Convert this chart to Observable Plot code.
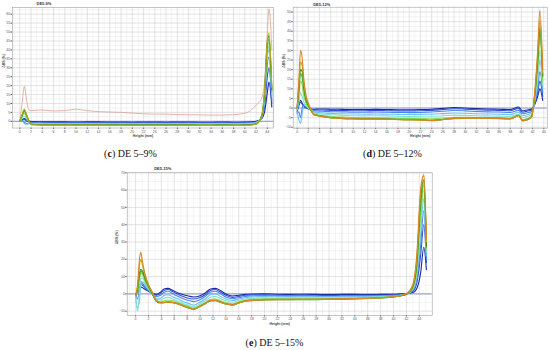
<!DOCTYPE html>
<html>
<head>
<meta charset="utf-8">
<script src="https://cdn.jsdelivr.net/npm/d3@7"></script>
<script src="https://cdn.jsdelivr.net/npm/@observablehq/plot@0.6"></script>
<style>
  html, body { margin: 0; padding: 0; background: #fff; }
  #root { position: relative; width: 550px; height: 350px; overflow: hidden; background: #fff; }
  .panel { position: absolute; }
  .cap { position: absolute; transform: translate(-50%, -50%); font-family: "Liberation Serif", "DejaVu Serif", serif; font-size: 10px; color: #111; white-space: nowrap; }
</style>
</head>
<body>
<div id="root"></div>
<script>
// ---------------- DATA ----------------
const scanLabels = ["scan 1","scan 2","scan 3","scan 4","scan 5","scan 6","scan 7","scan 8","scan 9","scan 10"];
const xTickLabels = [0,2,4,6,8,10,12,14,16,18,20,22,24,26,28,30,32,34,36,38,40,42,44];

// Panel (c) DE 5–9%
const titleC = "DE5-9%";
const captionC = "DE 5–9%";
const yTicksC = [0,5,10,15,20,25,30,35,40,45,50,55,60];
const heightC = [0,0.4,0.8,1.2,1.6, 2,3,4, 6,8,10,12,14,16,18,20, 22,24,26,28,30,32,34,36,38,40, 41,42,43,43.5,44,44.3,44.8];
const seriesC = [
  [0,0.8,1.5,0.8,0.2, -0.1,-0.2,-0.3, -0.3,-0.3,-0.4,-0.3,-0.3,-0.4,-0.4,-0.5, -0.4,-0.4,-0.5,-0.4,-0.4,-0.5,-0.5,-0.4,-0.5,-0.4, -0.3,0,1.5,5,16,22,8],
  [0,0.5,1.0,0.2,-0.4, -0.5,-0.6,-0.6, -0.6,-0.7,-0.7,-0.6,-0.7,-0.7,-0.8,-0.8, -0.7,-0.8,-0.8,-0.7,-0.8,-0.8,-0.8,-0.7,-0.8,-0.7, -0.6,-0.3,1.8,8,25,30,10],
  [0,0.3,-0.5,-1.2,-1.0, -0.9,-0.9,-0.9, -1.0,-1.0,-1.0,-1.0,-1.0,-1.0,-1.1,-1.1, -1.0,-1.1,-1.1,-1.0,-1.1,-1.1,-1.1,-1.0,-1.1,-1.0, -0.9,-0.5,2,10,32,36,12],
  [0,0.2,-1.2,-1.7,-1.3, -1.1,-1.1,-1.2, -1.2,-1.2,-1.3,-1.2,-1.2,-1.3,-1.3,-1.3, -1.3,-1.3,-1.3,-1.2,-1.3,-1.3,-1.3,-1.3,-1.3,-1.2, -1.1,-0.7,2.5,12,36,40,14],
  [0,1.5,3,1.5,0, -1.2,-1.4,-1.4, -1.5,-1.5,-1.5,-1.5,-1.5,-1.5,-1.5,-1.6, -1.5,-1.5,-1.6,-1.5,-1.5,-1.6,-1.6,-1.5,-1.6,-1.5, -1.4,-1.0,2.5,13,38,42,15],
  [0,2.5,4.5,2.5,0, -1.4,-1.6,-1.7, -1.7,-1.7,-1.8,-1.7,-1.7,-1.8,-1.8,-1.8, -1.8,-1.8,-1.8,-1.8,-1.8,-1.9,-1.9,-1.8,-1.9,-1.8, -1.7,-1.2,2.8,14,40,44,16],
  [0,3,5.5,3,0.3, -1.6,-1.8,-1.9, -1.9,-1.9,-2.0,-1.9,-1.9,-2.0,-2.0,-2.0, -2.0,-2.0,-2.0,-2.0,-2.0,-2.1,-2.1,-2.0,-2.1,-2.0, -1.9,-1.4,3,15,42,46,17],
  [0,3.5,6.2,3.5,0.5, -1.7,-1.9,-2.0, -2.0,-2.0,-2.1,-2.0,-2.0,-2.1,-2.1,-2.1, -2.1,-2.1,-2.1,-2.1,-2.1,-2.2,-2.2,-2.1,-2.2,-2.1, -2.0,-1.5,3,16,44,48,18],
  [0,3.8,6.8,3.8,0.6, -1.8,-2.0,-2.1, -2.1,-2.1,-2.2,-2.1,-2.1,-2.2,-2.2,-2.2, -2.2,-2.2,-2.2,-2.2,-2.2,-2.3,-2.3,-2.2,-2.3,-2.2, -2.1,-1.6,3.2,17,45,49.5,19]
];
const outlierC = [0,10,19.5,12,6.5, 6,6.2,6.3, 5.8,6,6.8,6,5.4,5.2,5,4.6, 4.2,4,4,3.8,3.7,3.6,3.5,3.5,3.7,4.5, 6,9,13,22,50,63,40];

// Panel (d) DE 5–12%
const titleD = "DE5-12%";
const captionD = "DE 5–12%";
const yTicksD = [-10,-5,0,5,10,15,20,25,30,35,40,45,50];
const heightD = [0,0.3,0.6,0.9,1.2,1.6,2,2.5,3, 4,5,6,8,10,12,14,16,18,20, 22,24,26,28,30,32,34,36,38, 39.5,40.2,41,41.8,42.4,42.9,43.3,43.8];
const seriesD = [
  [-1,2,4,2.5,1,0.5,0,-0.5,-0.6, -0.5,-0.5,-0.6,-0.7,-0.8,-0.8,-0.7,-0.8,-0.9,-0.9, -0.8,-0.6,-0.2,0.3,0,-0.3,-0.5,-0.6,-0.8, 0.5,-1.5,-1,-0.5,2,6,10,4],
  [-2,1,3,2,0.5,0,-0.5,-1,-1.1, -1,-1.1,-1.2,-1.3,-1.4,-1.4,-1.3,-1.4,-1.5,-1.5, -1.4,-1.2,-0.8,-0.4,-0.6,-0.9,-1.1,-1.2,-1.4, -0.2,-2.2,-1.6,-1,2.5,8,14,6],
  [-3,-2,-5,0,2,1,0,-0.8,-1.5, -1.6,-1.8,-1.9,-2.0,-2.2,-2.2,-2.1,-2.2,-2.3,-2.4, -2.3,-2.1,-1.7,-1.3,-1.5,-1.8,-2.0,-2.1,-2.3, -1.2,-3,-2.5,-1.8,3,10,19,8],
  [-2,-6,-8,-3,1,1.5,0.5,-0.8,-2, -2.4,-2.6,-2.8,-3,-3.1,-3.2,-3.1,-3.2,-3.3,-3.4, -3.3,-3.2,-2.9,-2.6,-2.7,-3,-3.1,-3.2,-3.4, -2.2,-4,-3.5,-2.6,4,13,25,10],
  [-1,3,8,6,3,1,0,-1.2,-2.6, -3,-3.3,-3.5,-3.8,-4,-4.1,-4,-4.1,-4.3,-4.4, -4.3,-4.3,-4,-3.7,-3.8,-4,-4.1,-4.2,-4.4, -3.2,-5,-4.4,-3.4,5,16,30,12],
  [0,6,14,12,6,2.5,0.5,-1.5,-3, -3.6,-4,-4.3,-4.7,-4.9,-5,-5,-5.1,-5.3,-5.4, -5.4,-5.6,-5.2,-4.8,-4.8,-4.9,-4.9,-5,-5.2, -3.6,-6,-5.5,-4.2,6,20,36,14],
  [0,8,18,16,9,3.5,1,-1.5,-3.3, -3.9,-4.4,-4.8,-5.2,-5.4,-5.5,-5.5,-5.6,-5.8,-5.9, -6,-6.3,-5.8,-5.2,-5.2,-5.2,-5.2,-5.3,-5.5, -3.8,-6.4,-5.9,-4.5,7,23,40,16],
  [0,10,20,19,11,4.5,1.5,-1.3,-3.5, -4.1,-4.6,-5,-5.4,-5.6,-5.7,-5.7,-5.8,-6,-6.1, -6.2,-6.5,-6,-5.4,-5.3,-5.3,-5.3,-5.4,-5.6, -3.9,-6.6,-6.1,-4.7,7.5,25,42,17],
  [0,12,24,22,13,5.5,2,-1,-3.5, -4.2,-4.7,-5.1,-5.5,-5.7,-5.8,-5.8,-5.9,-6.1,-6.2, -6.3,-6.6,-6.1,-5.5,-5.4,-5.4,-5.4,-5.5,-5.7, -4,-6.7,-6.2,-4.8,8,28,46,18],
  [0,14,30,26,15,6.5,2.5,-0.8,-3.4, -4.1,-4.6,-5,-5.4,-5.6,-5.7,-5.7,-5.8,-6,-6.1, -6.2,-6.5,-6,-5.4,-5.3,-5.3,-5.3,-5.4,-5.6, -3.9,-6.6,-6.1,-4.6,9,30,51,20]
];

// Panel (e) DE 5–15%
const titleE = "DE5-15%";
const captionE = "DE 5–15%";
const yTicksE = [-10,0,10,20,30,40,50,60,70];
const heightE = [0,0.3,0.6,0.8,1.1, 1.5,2,2.6,3.2,3.8, 4.4,5,5.8,6.6,7.4, 8.2,9,9.9,10.8,11.6, 12.4,13.2,14,15,16, 17,18,20,22,24, 26,28,30,32,34, 36,38,40,41,42, 43,43.6,44.2,44.7,45.1];
const seriesE = [
  [0,1,3,4,3.5, 2.5,1.5,0.5,-0.3,0.8, 2.8,3.2,2,0.5,-0.5, -1.2,-1.8,-1.2,0.5,2.8, 3.2,1.8,0,-1.2,-0.8, -0.3,-0.1,0,-0.2,-0.3, -0.2,-0.3,-0.4,-0.3,-0.3, -0.4,-0.3,-0.2,0,0.2, 0.8,3,12,27,14],
  [0,0,4,6,5, 3.5,2,0.5,-0.8,0, 2,2.5,1.2,-0.3,-1.5, -2.5,-3,-2.2,-0.5,2, 2.5,1,-0.8,-2,-1.5, -0.8,-0.6,-0.5,-0.7,-0.8, -0.7,-0.8,-0.9,-0.8,-0.8, -0.8,-0.7,-0.5,-0.3,0, 1.5,6,22,40,18],
  [0,-3,2,7,6, 4,2,0,-1.5,-1, 0.8,1.5,0,-1.5,-2.8, -3.8,-4.5,-3.5,-1.5,1, 1.5,0,-1.8,-2.8,-2.2, -1.5,-1.2,-1,-1.2,-1.3, -1.2,-1.3,-1.4,-1.3,-1.2, -1.2,-1.1,-0.9,-0.6,-0.2, 2,8,28,48,20],
  [-2,-8,-4,5,7, 5,2.5,0,-2.5,-2.5, -1,-0.5,-1.8,-3,-4.5, -5.5,-6.5,-5,-3,-0.5, 0,-1.5,-3,-3.8,-3, -2.2,-1.8,-1.6,-1.7,-1.8, -1.7,-1.8,-1.8,-1.7,-1.6, -1.5,-1.4,-1.2,-0.8,-0.3, 2.5,10,34,55,22],
  [-1,-10,0,9,9, 6,3,0,-3,-3.5, -2.5,-2,-3,-4.2,-5.5, -6.5,-7.5,-6,-4,-2, -1.5,-2.8,-4,-4.8,-3.8, -3,-2.6,-2.3,-2.4,-2.4, -2.3,-2.4,-2.4,-2.3,-2.2, -2,-1.8,-1.5,-1,-0.3, 3,12,40,60,24],
  [-1,0,8,12,11, 7,3.5,0,-3.5,-4.5, -4,-3.5,-4,-5,-6.2, -7.2,-8.2,-6.8,-5,-3.2, -3,-4,-5,-5.8,-4.5, -3.6,-3.2,-2.9,-2.9,-2.9, -2.8,-2.8,-2.8,-2.7,-2.5, -2.3,-2,-1.6,-1,-0.2, 3.5,14,45,63,26],
  [-1,2,10,13,12, 8,4,0,-4,-5, -4.8,-4.5,-4.8,-5.6,-6.8, -7.8,-8.8,-7.2,-5.4,-3.8, -3.6,-4.6,-5.6,-6.2,-5, -4,-3.6,-3.2,-3.2,-3.2, -3.1,-3.1,-3,-2.9,-2.7, -2.5,-2.2,-1.7,-1.1,-0.2, 4,16,50,65,27],
  [-1,3,12,14,13, 9,4.5,0,-4.3,-5.3, -5.1,-4.9,-5.1,-5.9,-7.1, -8.1,-9,-7.5,-5.7,-4.1, -3.9,-4.9,-5.9,-6.5,-5.3, -4.3,-3.9,-3.5,-3.4,-3.4, -3.3,-3.3,-3.2,-3.1,-2.9, -2.7,-2.4,-1.8,-1.2,-0.2, 4.5,18,55,66,28],
  [-1,4,16,20,16, 10,5,0.5,-4,-5, -5,-4.8,-5,-5.8,-7, -8,-8.9,-7.4,-5.6,-4, -3.8,-4.8,-5.8,-6.4,-5.2, -4.2,-3.8,-3.4,-3.3,-3.3, -3.2,-3.2,-3.1,-3,-2.8, -2.6,-2.3,-1.7,-1,0, 5,20,58,68,30],
  [-1,5,20,24,18, 11,5.5,1,-3.8,-4.8, -4.9,-4.7,-4.9,-5.7,-6.9, -7.9,-8.8,-7.3,-5.5,-3.9, -3.7,-4.7,-5.7,-6.3,-5.1, -4.1,-3.7,-3.3,-3.2,-3.2, -3.1,-3.1,-3,-2.9,-2.7, -2.5,-2.2,-1.6,-0.9,0.2, 5.5,22,60,69,32]
];

// ---------------- STYLE ----------------
const palette = ["#1b2a9c","#2e4fd6","#4a86ea","#6cc0f2","#7fe0d0","#8edc5a","#4cb52c","#3a8a1e","#b8ac1c","#d6862a"];

function rows(xs, series, labels) {
  return series.flatMap((vals, i) => vals.map((v, j) => ({x: xs[j], y: v, scan: labels[i]})));
}

function panel(o) {
  const labels = scanLabels.slice(0, o.series.length);
  const data = rows(o.xs, o.series, labels);
  const [x0, x1] = o.xDomain, [y0, y1] = o.yDomain;
  const minorX = d3.range(Math.ceil(x0), x1, 1).filter(v => v % 2 !== 0);
  const stepY = o.yTicks[1] - o.yTicks[0];
  const minorY = d3.range(o.yTicks[0] - stepY / 2, y1, stepY).filter(v => v > y0);
  const marks = [
    Plot.gridX(minorX, {stroke: "#e8e8e8", strokeOpacity: 1, strokeWidth: 0.5}),
    Plot.gridY(minorY, {stroke: "#e8e8e8", strokeOpacity: 1, strokeWidth: 0.5}),
    Plot.gridX(xTickLabels, {stroke: "#d0d0d0", strokeOpacity: 1, strokeWidth: 0.6}),
    Plot.gridY(o.yTicks, {stroke: "#d0d0d0", strokeOpacity: 1, strokeWidth: 0.6}),
    Plot.ruleY([0], {stroke: "#6b6bd6", strokeWidth: 0.7})
  ];
  if (o.extra) marks.push(Plot.line(o.extra.data, {x: "x", y: "y", stroke: o.extra.color, strokeWidth: 0.8, curve: "monotone-x", clip: true}));
  marks.push(
    Plot.line(data, {x: "x", y: "y", z: "scan", stroke: "scan", strokeWidth: 1.1, curve: "monotone-x", clip: true}),
    Plot.frame({stroke: "#a0a0a0", strokeWidth: 0.6}),
    Plot.text([o.title], {frameAnchor: "top-left", dx: o.titleDx, dy: o.titleDy, fontSize: 4, fontWeight: "bold", fill: "#333"}),
    Plot.text(["Height (mm)"], {frameAnchor: "bottom", dy: o.xLabelDy, fontSize: 3.5, fontWeight: "bold", fill: "#444"}),
    Plot.text(["ΔBS (%)"], {frameAnchor: "left", dx: o.yLabelDx, rotate: -90, fontSize: 3.5, fontWeight: "bold", fill: "#444"})
  );
  return Plot.plot({
    width: o.width, height: o.height,
    marginLeft: o.m[0], marginRight: o.m[1], marginTop: o.m[2], marginBottom: o.m[3],
    style: {fontSize: "3.5px", fontFamily: "Arial, 'Liberation Sans', sans-serif", color: "#555", background: "transparent"},
    x: {domain: o.xDomain, ticks: xTickLabels, tickSize: 1.5, tickPadding: 0.8, label: null},
    y: {domain: o.yDomain, ticks: o.yTicks, tickSize: 1.5, tickPadding: 0.8, label: null},
    color: {domain: labels, range: palette.slice(0, labels.length)},
    marks
  });
}

const root = document.getElementById("root");
function place(node, left, top) {
  node.classList.add("panel");
  node.style.left = left + "px";
  node.style.top = top + "px";
  root.appendChild(node);
}
function caption(letter, text, cx, cy) {
  const d = document.createElement("div");
  d.className = "cap";
  d.style.left = cx + "px";
  d.style.top = cy + "px";
  d.innerHTML = "(<b>" + letter + "</b>) " + text;
  root.appendChild(d);
}

const outlierRows = heightC.map((h, j) => ({x: h, y: outlierC[j]}));

place(panel({
  xs: heightC, series: seriesC, yTicks: yTicksC, xDomain: [-1.3, 45.1], yDomain: [-3.75, 63.75],
  width: 277, height: 140, m: [12, 4, 7, 12.5],
  title: titleC, titleDx: 24, titleDy: -5, xLabelDy: 9, yLabelDx: -9,
  extra: {data: outlierRows, color: "#d9a293"}
}), 0, 0);

place(panel({
  xs: heightD, series: seriesD, yTicks: yTicksD, xDomain: [-0.7, 44.6], yDomain: [-10.5, 52.5],
  width: 270, height: 140, m: [12.7, 3.3, 6.7, 12.3],
  title: titleD, titleDx: 20, titleDy: -4.5, xLabelDy: 8.5, yLabelDx: -9
}), 280, 0);

place(panel({
  xs: heightE, series: seriesE, yTicks: yTicksE, xDomain: [-1.3, 46], yDomain: [-12.5, 70],
  width: 330, height: 170, m: [16.7, 8.3, 12.3, 15],
  title: titleE, titleDx: 27, titleDy: -5.3, xLabelDy: 9.5, yLabelDx: -10
}), 110, 160);

caption("c", captionC, 130.5, 153);
caption("d", captionD, 392.5, 153);
caption("e", captionE, 274.5, 341.5);
</script>
</body>
</html>
